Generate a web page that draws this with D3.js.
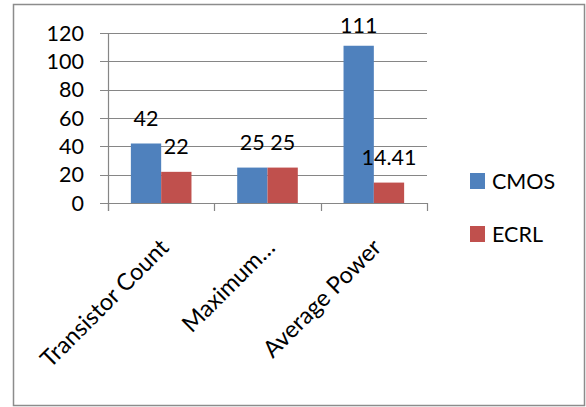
<!DOCTYPE html>
<html><head><meta charset="utf-8">
<script src="https://cdn.jsdelivr.net/npm/d3@7"></script>
<style>body{margin:0;background:#fff}svg{display:block}text{font-family:Lato,"Open Sans",sans-serif;fill:#000}</style>
</head><body>
<script>
const categories = ["Transistor Count", "Maximum…", "Average Power"];
const seriesNames = ["CMOS", "ECRL"];
const cmosValues = [42, 25, 111];
const ecrlValues = [22, 25, 14.41];
const valueLabels = [["42","22"],["25","25"],["111","14.41"]];
const yTicks = [0, 20, 40, 60, 80, 100, 120];
const colors = ["#4F81BD", "#C0504D"];

const W = 586, H = 407;
const svg = d3.select("body").append("svg").attr("width", W).attr("height", H);
svg.append("rect").attr("x", 13.5).attr("y", 4.5).attr("width", 571).attr("height", 401)
  .attr("fill", "#fff").attr("stroke", "#8c8c8c").attr("stroke-width", 1.5);

const plot = {left: 108, right: 427, top: 33, bottom: 203};
const x = d3.scaleBand().domain(categories).range([plot.left, plot.right]);
const y = d3.scaleLinear().domain([0, 120]).range([plot.bottom, plot.top]);
const barW = x.bandwidth() * 0.285;
const xs = d3.scaleBand().domain(seriesNames).range([0, barW * 2]);

// gridlines
svg.append("g").selectAll("line").data(yTicks).join("line")
  .attr("x1", plot.left - 8).attr("x2", plot.right)
  .attr("y1", d => Math.round(y(d)) + 0.5).attr("y2", d => Math.round(y(d)) + 0.5)
  .attr("stroke", "#868686").attr("stroke-width", 1.2);

// y tick labels
svg.append("g").selectAll("text").data(yTicks).join("text")
  .attr("x", 84).attr("y", d => y(d)).attr("dy", "0.35em")
  .attr("text-anchor", "end").attr("font-size", 21.5).text(d => d);

// bars
const data = categories.map((c, i) => ({c, vals: [cmosValues[i], ecrlValues[i]], labels: valueLabels[i]}));
const groups = svg.append("g").selectAll("g").data(data).join("g")
  .attr("transform", d => `translate(${x(d.c) + x.bandwidth() / 2 - barW},0)`);
groups.selectAll("rect").data(d => d.vals.map((v, j) => ({v, s: seriesNames[j], j})))
  .join("rect")
  .attr("x", d => xs(d.s)).attr("width", xs.bandwidth())
  .attr("y", d => y(d.v)).attr("height", d => y(0) - y(d.v))
  .attr("fill", d => colors[d.j]);
groups.selectAll("text").data(d => d.vals.map((v, j) => ({v, s: seriesNames[j], j, t: d.labels[j]})))
  .join("text")
  .attr("x", d => xs(d.s) + xs.bandwidth() / 2)
  .attr("y", d => Math.max(y(d.v) - 18, plot.top))
  .attr("text-anchor", "middle").attr("font-size", 21.5).text(d => d.t);

// axes lines
svg.append("line").attr("x1", plot.left + 0.5).attr("x2", plot.left + 0.5)
  .attr("y1", plot.top).attr("y2", plot.bottom + 8).attr("stroke", "#868686").attr("stroke-width", 1.2);
svg.append("line").attr("x1", plot.left).attr("x2", plot.right)
  .attr("y1", plot.bottom + 0.5).attr("y2", plot.bottom + 0.5).attr("stroke", "#868686").attr("stroke-width", 1.2);
const bounds = categories.map(c => x(c)).concat([plot.right]);
svg.append("g").selectAll("line").data(bounds).join("line")
  .attr("x1", d => Math.round(d) + 0.5).attr("x2", d => Math.round(d) + 0.5)
  .attr("y1", plot.bottom).attr("y2", plot.bottom + 8)
  .attr("stroke", "#868686").attr("stroke-width", 1.2);

// category labels
svg.append("g").selectAll("text").data(categories).join("text")
  .attr("transform", d => `translate(${x(d) + x.bandwidth() / 2 + 9},${plot.bottom + 46}) rotate(-45)`)
  .attr("text-anchor", "end").attr("font-size", 23.5).text(d => d);

// legend
const leg = svg.append("g").selectAll("g").data(seriesNames).join("g")
  .attr("transform", (d, i) => `translate(470,${173 + i * 53})`);
leg.append("rect").attr("width", 15).attr("height", 16).attr("fill", (d, i) => colors[i]);
leg.append("text").attr("x", 22).attr("y", 8).attr("dy", "0.35em").attr("font-size", 21.5).text(d => d);
</script>
</body></html>
